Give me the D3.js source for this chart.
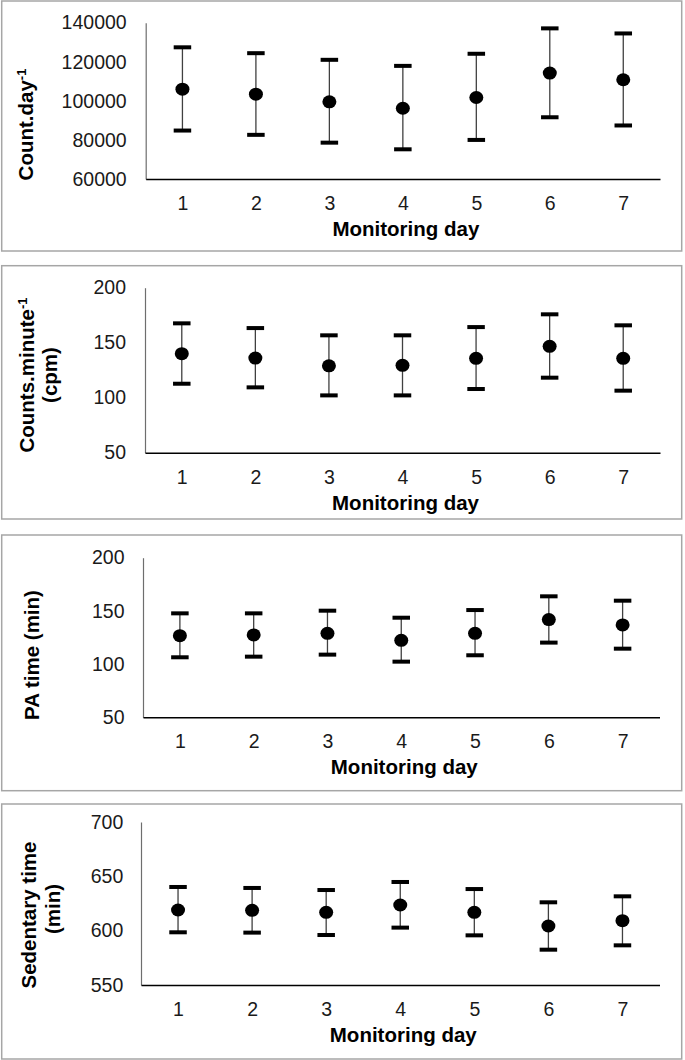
<!DOCTYPE html>
<html>
<head>
<meta charset="utf-8">
<script src="https://cdn.jsdelivr.net/npm/d3@7"></script>
<style>
  html, body { margin: 0; padding: 0; background: #fff; }
  svg { display: block; }
  text { font-family: "Liberation Sans", Arial, sans-serif; }
</style>
</head>
<body>
<svg id="chart" width="685" height="1060"></svg>
<script>
// ---------------- DATA ----------------
const days = [1, 2, 3, 4, 5, 6, 7];

const countDayMean = [106000, 103400, 99500, 96200, 101700, 114200, 110800];
const countDayLow  = [84800, 82600, 78600, 75200, 80000, 91600, 87400];
const countDayHigh = [127400, 124400, 121000, 117900, 124100, 137100, 134500];
const countDayTicks = [60000, 80000, 100000, 120000, 140000];

const cpmMean = [140, 136, 129, 129.4, 135.8, 146.7, 135.8];
const cpmLow  = [112.7, 109.4, 102.1, 102.1, 107.9, 118.2, 106.4];
const cpmHigh = [167.6, 163.3, 156.7, 156.7, 164.2, 175.8, 165.8];
const cpmTicks = [50, 100, 150, 200];

const paMean = [126.7, 127.4, 128.9, 122.3, 128.9, 141.8, 136.8];
const paLow  = [106.4, 107.0, 108.9, 102.3, 108.3, 120.2, 114.5];
const paHigh = [147.7, 147.7, 150.2, 143.6, 150.8, 163.7, 159.6];
const paTicks = [50, 100, 150, 200];

const sedMean = [619.0, 618.7, 616.9, 623.6, 616.9, 604.3, 609.2];
const sedLow  = [598.5, 598.2, 596.0, 602.8, 595.7, 582.5, 586.5];
const sedHigh = [640.2, 639.3, 637.4, 644.8, 638.3, 626.1, 631.6];
const sedTicks = [550, 600, 650, 700];

const xTitle = "Monitoring day";

// ---------------- LAYOUT ----------------
const panels = [
  { mean: countDayMean, low: countDayLow, high: countDayHigh, ticks: countDayTicks,
    frame: [1.7, 1, 681.7, 251], plot: { x0: 145.7, x1: 660, top: 22.7, bottom: 179 },
    ypad: 19,
    title: [{ parts: [["Count.day", false], ["-1", true]], bx: 33, cy: 124.5 }] },
  { mean: cpmMean, low: cpmLow, high: cpmHigh, ticks: cpmTicks,
    frame: [1.7, 265.7, 681.7, 519], plot: { x0: 145, x1: 660, top: 287.7, bottom: 452.7 },
    ypad: 19,
    title: [{ parts: [["Counts.minute", false], ["-1", true]], bx: 33.5, cy: 375 },
            { parts: [["(cpm)", false]], bx: 57, cy: 375 }] },
  { mean: paMean, low: paLow, high: paHigh, ticks: paTicks,
    frame: [1.7, 535, 681.7, 790.7], plot: { x0: 143, x1: 659.5, top: 557.7, bottom: 717.3 },
    ypad: 18.5,
    title: [{ parts: [["PA time (min)", false]], bx: 39, cy: 655 }] },
  { mean: sedMean, low: sedLow, high: sedHigh, ticks: sedTicks,
    frame: [1.7, 804, 681.7, 1059], plot: { x0: 141, x1: 659.5, top: 822, bottom: 985 },
    ypad: 17.7,
    title: [{ parts: [["Sedentary time", false]], bx: 35.5, cy: 915 },
            { parts: [["(min)", false]], bx: 59.5, cy: 909 }] }
];

const svg = d3.select("#chart");

panels.forEach(p => {
  const g = svg.append("g");
  const [fx0, fy0, fx1, fy1] = p.frame;
  g.append("rect")
    .attr("x", fx0).attr("y", fy0)
    .attr("width", fx1 - fx0).attr("height", fy1 - fy0)
    .attr("fill", "#fff").attr("stroke", "#a6a6a6").attr("stroke-width", 1.5);

  const x = d3.scalePoint().domain(days).range([p.plot.x0, p.plot.x1]).padding(0.5);
  const y = d3.scaleLinear()
    .domain([d3.min(p.ticks), d3.max(p.ticks)])
    .range([p.plot.bottom, p.plot.top]);

  // y axis
  const yAxis = g.append("g")
    .attr("transform", `translate(${p.plot.x0},0)`)
    .call(d3.axisLeft(y).tickValues(p.ticks).tickSize(0).tickSizeOuter(0)
      .tickPadding(p.ypad).tickFormat(d3.format("d")));
  yAxis.select(".domain").attr("stroke", "#6e6e6e").attr("stroke-width", 1.2);
  yAxis.selectAll("text").attr("font-size", "19.5px").attr("fill", "#1a1a1a")
    .attr("font-family", "'Liberation Sans', Arial, sans-serif");

  // x axis
  const xAxis = g.append("g")
    .attr("transform", `translate(0,${p.plot.bottom})`)
    .call(d3.axisBottom(x).tickSize(0).tickSizeOuter(0).tickPadding(17));
  xAxis.select(".domain").attr("stroke", "#000").attr("stroke-width", 1.6);
  xAxis.selectAll("text").attr("font-size", "19.5px").attr("fill", "#1a1a1a")
    .attr("font-family", "'Liberation Sans', Arial, sans-serif");

  // x title
  g.append("text")
    .attr("x", (p.plot.x0 + p.plot.x1) / 2 + 3)
    .attr("y", p.plot.bottom + 57)
    .attr("text-anchor", "middle")
    .attr("font-size", "20.5px").attr("font-weight", "bold").attr("fill", "#000")
    .text(xTitle);

  // y title lines
  p.title.forEach(line => {
    const t = g.append("text")
      .attr("transform", `translate(${line.bx},${line.cy}) rotate(-90)`)
      .attr("text-anchor", "middle")
      .attr("font-size", "20.5px").attr("font-weight", "bold").attr("fill", "#000");
    line.parts.forEach(([s, sup]) => {
      const ts = t.append("tspan").text(s);
      if (sup) ts.attr("font-size", "13px").attr("dy", "-7");
    });
  });

  // error bars
  const data = days.map((d, i) => ({ d, m: p.mean[i], lo: p.low[i], hi: p.high[i] }));
  const eb = g.append("g");
  eb.selectAll("line.stem").data(data).join("line")
    .attr("class", "stem")
    .attr("x1", v => x(v.d)).attr("x2", v => x(v.d))
    .attr("y1", v => y(v.hi)).attr("y2", v => y(v.lo))
    .attr("stroke", "#404040").attr("stroke-width", 1.3);
  const capW = 17.5, capH = 4;
  ["hi", "lo"].forEach(k => {
    eb.selectAll("rect.cap-" + k).data(data).join("rect")
      .attr("class", "cap-" + k)
      .attr("x", v => x(v.d) - capW / 2)
      .attr("y", v => y(v[k]) - capH / 2)
      .attr("width", capW).attr("height", capH)
      .attr("fill", "#000");
  });
  eb.selectAll("ellipse").data(data).join("ellipse")
    .attr("cx", v => x(v.d)).attr("cy", v => y(v.m))
    .attr("rx", 7).attr("ry", 6.5)
    .attr("fill", "#000");
});
</script>
</body>
</html>
